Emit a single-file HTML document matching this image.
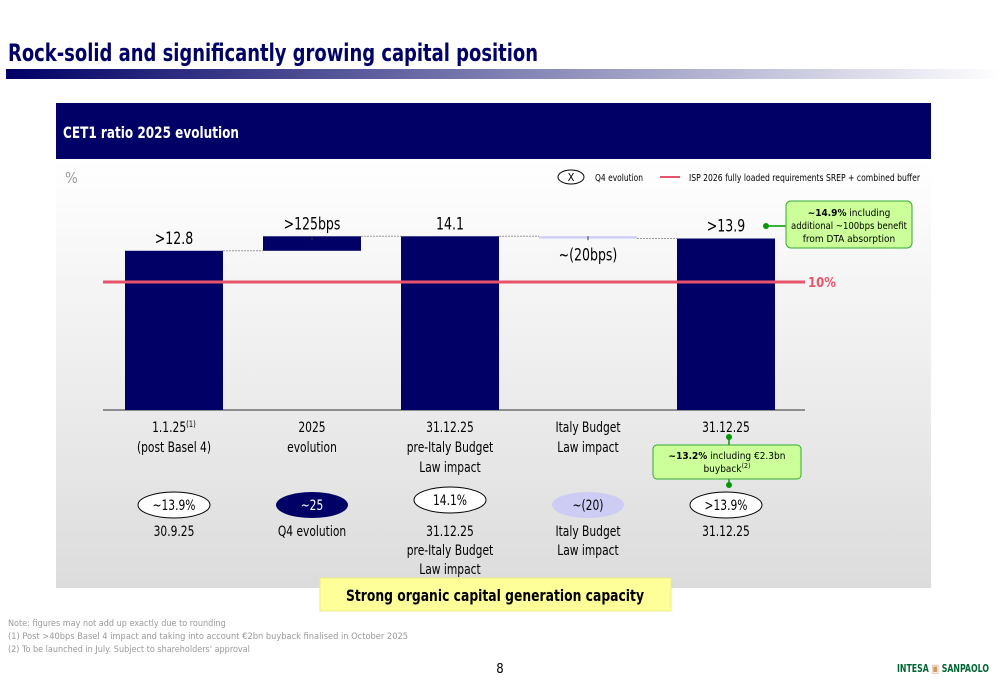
<!DOCTYPE html>
<html><head><meta charset="utf-8">
<style>
body{margin:0;width:1000px;height:685px;overflow:hidden;background:#fff;font-family:"DejaVu Sans Condensed","Liberation Sans Narrow","Liberation Sans",sans-serif;}
svg text{font-family:"DejaVu Sans Condensed","Liberation Sans Narrow","Liberation Sans",sans-serif;}
</style></head><body>
<svg width="1000" height="685" viewBox="0 0 1000 685" xmlns="http://www.w3.org/2000/svg" id="chart">
<defs>
<linearGradient id="tg" x1="0" x2="1" y1="0" y2="0"><stop offset="0" stop-color="#000066"/><stop offset="1" stop-color="#ffffff"/></linearGradient>
<linearGradient id="bg" x1="0" x2="0" y1="0" y2="1"><stop offset="0" stop-color="#ffffff"/><stop offset="1" stop-color="#dcdcdc"/></linearGradient>
</defs>
<text x="8" y="61" font-size="24" font-weight="bold" fill="#000066" textLength="530" lengthAdjust="spacingAndGlyphs">Rock-solid and significantly growing capital position</text>
<rect x="6" y="69" width="994" height="10" fill="url(#tg)"/>
<rect x="56" y="103" width="875" height="56" fill="#000066"/>
<text x="63" y="138" font-size="16" font-weight="bold" fill="#fff" textLength="176" lengthAdjust="spacingAndGlyphs">CET1 ratio 2025 evolution</text>
<rect x="56" y="159" width="875" height="429" fill="url(#bg)"/>
<text x="65" y="183" font-size="15" fill="#999">%</text>
<ellipse cx="571" cy="177" rx="13" ry="7" fill="#fff" stroke="#000"/>
<text x="571" y="181" font-size="11" text-anchor="middle">X</text>
<text x="595" y="181" font-size="10" fill="#000" textLength="48" lengthAdjust="spacingAndGlyphs">Q4 evolution</text>
<line x1="660" y1="177" x2="680" y2="177" stroke="#e8546a" stroke-width="2"/>
<text x="689" y="181" font-size="10" fill="#000" textLength="231" lengthAdjust="spacingAndGlyphs">ISP 2026 fully loaded requirements SREP + combined buffer</text>
<g id="marks"></g>
<g font-size="10">
<line x1="766" y1="226" x2="790" y2="226" stroke="#009900" stroke-width="1.5"/><circle cx="766" cy="226" r="3" fill="#009900"/>
<rect x="786" y="201" width="126" height="47" rx="5" fill="#ccff99" stroke="#33aa33"/>
<text x="849" y="216" text-anchor="middle"><tspan font-weight="bold">~14.9%</tspan> including</text>
<text x="849" y="229" text-anchor="middle" textLength="116" lengthAdjust="spacingAndGlyphs">additional ~100bps benefit</text>
<text x="849" y="242" text-anchor="middle">from DTA absorption</text>
</g>
<g font-size="10">
<line x1="729" y1="437" x2="729" y2="485" stroke="#009900" stroke-width="1.5"/><circle cx="729" cy="437" r="3" fill="#009900"/><circle cx="729" cy="485" r="3" fill="#009900"/>
<rect x="653" y="445" width="148" height="34" rx="4" fill="#ccff99" stroke="#33aa33"/>
<text x="727" y="459" text-anchor="middle"><tspan font-weight="bold">~13.2%</tspan> including €2.3bn</text>
<text x="727" y="472" text-anchor="middle">buyback<tspan font-size="7" dy="-4">(2)</tspan></text>
</g>
<rect x="320" y="578" width="351" height="33" fill="#ffff99" stroke="#eeee88"/>
<text x="346" y="601" font-size="16" font-weight="bold" textLength="298" lengthAdjust="spacingAndGlyphs">Strong organic capital generation capacity</text>
<text x="8" y="626" font-size="9" fill="#999">Note: figures may not add up exactly due to rounding</text>
<text x="8" y="639" font-size="9" fill="#999" textLength="400" lengthAdjust="spacingAndGlyphs">(1) Post &gt;40bps Basel 4 impact and taking into account €2bn buyback finalised in October 2025</text>
<text x="8" y="652" font-size="9" fill="#999">(2) To be launched in July. Subject to shareholders' approval</text>
<text x="500" y="673" font-size="13" text-anchor="middle">8</text>
<text x="897" y="672" font-size="11" font-weight="bold" fill="#006633" font-family="Liberation Serif" textLength="92" lengthAdjust="spacingAndGlyphs">INTESA <tspan fill="#cc9966">▣</tspan> SANPAOLO</text>
</svg>
<script>
const categories=["1.1.25","2025 evolution","31.12.25 pre-Italy Budget","Italy Budget Law impact","31.12.25"];
const startValues=[null,12.8,null,14.1,null];
const endValues=[12.8,14.1,14.1,13.9,13.9];
const valueLabels=[">12.8",">125bps","14.1","~(20bps)",">13.9"];
const requirement=10;
const ovalLabels=["~13.9%","~25","14.1%","~(20)",">13.9%"];
const ovalCaptions=[["30.9.25"],["Q4 evolution"],["31.12.25","pre-Italy Budget","Law impact"],["Italy Budget","Law impact"],["31.12.25"]];
const axisLabels=[["1.1.25|(1)","(post Basel 4)"],["2025","evolution"],["31.12.25","pre-Italy Budget","Law impact"],["Italy Budget","Law impact"],["31.12.25"]];
const NS="http://www.w3.org/2000/svg";
const g=document.getElementById('marks');
const y=v=>282-(v-10)*11.15;
const baseY=410;
const x0=125,step=138,bw=98;
function mk(t,a,p){const e=document.createElementNS(NS,t);for(const k in a)e.setAttribute(k,a[k]);(p||g).appendChild(e);return e;}
const line=mk('line',{x1:103,y1:baseY,x2:805,y2:baseY,stroke:'#333','stroke-width':1});


categories.forEach((c,i)=>{
  const x=x0+i*step, cx=x+bw/2;
  let top,bot,fill='#000066';
  if(startValues[i]===null){top=y(endValues[i]);bot=baseY;}
  else{top=y(Math.max(startValues[i],endValues[i]));bot=y(Math.min(startValues[i],endValues[i]));}
  if(i===3){fill='#ccccf5';bot=Math.max(bot,top+2);}
  const r=mk('rect',{x:x,y:top,width:bw,height:bot-top,fill:fill});
  
  
  if(i<4){const nv=endValues[i];const cl=mk('line',{x1:x+bw,y1:y(nv),x2:x+step,y2:y(nv),stroke:'#999','stroke-dasharray':'2,1'});
    
    }
  const neg=startValues[i]!==null&&endValues[i]<startValues[i];
  const ly=neg?y(endValues[i])+22:top-7;
  if(startValues[i]!==null)mk('line',{x1:cx,y1:top,x2:cx,y2:top+4,stroke:'#333'});
  const t=mk('text',{x:cx,y:ly,'font-size':17,'text-anchor':'middle',transform:`translate(${cx},0) scale(0.82,1) translate(${-cx},0)`});t.textContent=valueLabels[i];
  
  
  axisLabels[i].forEach((s,j)=>{const tt=mk('text',{x:cx,y:432+j*20,'font-size':14,'text-anchor':'middle',transform:`translate(${cx},0) scale(0.85,1) translate(${-cx},0)`});
    const p=s.split('|');tt.textContent=p[0];if(p[1]){const sp=mk('tspan',{'font-size':9,dy:-5},tt);sp.textContent=p[1];}
    
    });
  const oy=i===2?500:505;
  const ov=mk('ellipse',{cx:cx,cy:oy,rx:36,ry:13,fill:i===1?'#000066':(i===3?'#ccccf5':'#fff'),stroke:i===1||i===3?'none':'#000'});
  
  
  const ot=mk('text',{x:cx,y:oy+5,'font-size':14,'text-anchor':'middle',fill:i===1?'#fff':'#000',transform:`translate(${cx},0) scale(0.85,1) translate(${-cx},0)`});ot.textContent=ovalLabels[i];
  
  
  ovalCaptions[i].forEach((s,j)=>{const tt=mk('text',{x:cx,y:536+j*19,'font-size':14,'text-anchor':'middle',transform:`translate(${cx},0) scale(0.85,1) translate(${-cx},0)`});tt.textContent=s;
    
    });
});
const rl=mk('line',{x1:103,y1:y(requirement),x2:805,y2:y(requirement),stroke:'#e8546a','stroke-width':3});


const rt=mk('text',{x:808,y:y(requirement)+5,'font-size':13,'font-weight':'bold',fill:'#e8546a'});rt.textContent=requirement+'%';


</script>
</body></html>
